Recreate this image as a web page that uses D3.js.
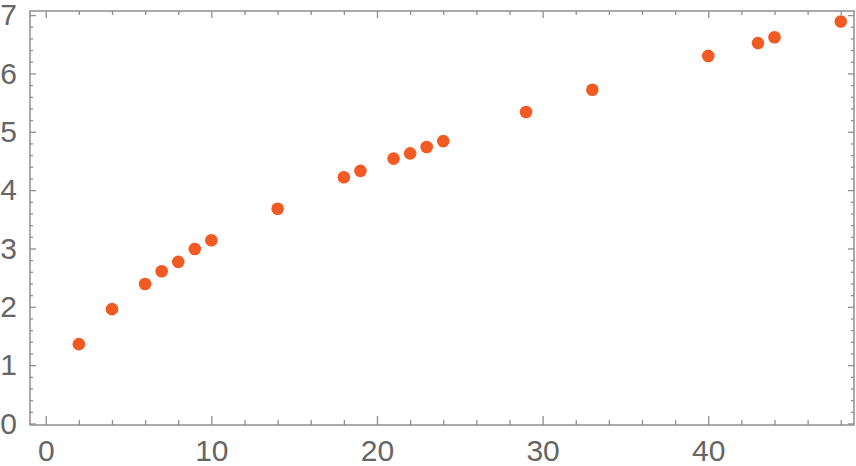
<!DOCTYPE html>
<html><head><meta charset="utf-8">
<script src="https://cdn.jsdelivr.net/npm/d3@7"></script>
<style>body{margin:0;background:#fff}svg{display:block}</style>
</head><body>
<script>
const xValues = [2,4,6,7,8,9,10,14,18,19,21,22,23,24,29,33,40,43,44,48];
const yValues = [1.36,1.96,2.39,2.61,2.77,2.99,3.14,3.68,4.22,4.33,4.54,4.63,4.74,4.84,5.34,5.72,6.30,6.52,6.62,6.89];
const xTickLabels = [0,10,20,30,40];
const yTickLabels = [0,1,2,3,4,5,6,7];

const W = 856, H = 466;
const L = 30, R = 854, T = 11, B = 425;
const svg = d3.select("body").append("svg").attr("width", W).attr("height", H);

const x = d3.scaleLinear().domain([-0.95, 48.8]).range([L, R]);
const y = d3.scaleLinear().domain([-0.026, 7.07]).range([B, T]);

const frameCol = "#8f8f8f", textCol = "#666";
const font = "'Liberation Sans', Arial, sans-serif";

const xMinor = d3.range(0, 49, 2).filter(v => v % 10 !== 0);
const yMinor = d3.range(0, 7.01, 0.2).map(v => +v.toFixed(1)).filter(v => Math.abs(v - Math.round(v)) > 1e-6);

function styleAxis(g) {
  g.select(".domain").remove();
  g.selectAll(".tick line").attr("stroke", frameCol).attr("stroke-width", 1.3);
  g.selectAll(".tick text").attr("fill", textCol).attr("font-family", font).attr("font-size", 30);
}

// bottom axis
svg.append("g").attr("transform", `translate(0,${B})`)
  .call(d3.axisBottom(x).tickValues(xTickLabels).tickSize(-9).tickPadding(15).tickFormat(d3.format("d")))
  .call(styleAxis);
svg.append("g").attr("transform", `translate(0,${B})`)
  .call(d3.axisBottom(x).tickValues(xMinor).tickSize(-5).tickFormat(""))
  .call(styleAxis);
// top axis
svg.append("g").attr("transform", `translate(0,${T})`)
  .call(d3.axisTop(x).tickValues(xTickLabels).tickSize(-7).tickFormat(""))
  .call(styleAxis);
svg.append("g").attr("transform", `translate(0,${T})`)
  .call(d3.axisTop(x).tickValues(xMinor).tickSize(-4).tickFormat(""))
  .call(styleAxis);
// left axis
svg.append("g").attr("transform", `translate(${L},0)`)
  .call(d3.axisLeft(y).tickValues(yTickLabels).tickSize(-6).tickPadding(13).tickFormat(d3.format("d")))
  .call(styleAxis);
svg.append("g").attr("transform", `translate(${L},0)`)
  .call(d3.axisLeft(y).tickValues(yMinor).tickSize(-3).tickFormat(""))
  .call(styleAxis);
// right axis
svg.append("g").attr("transform", `translate(${R},0)`)
  .call(d3.axisRight(y).tickValues(yTickLabels).tickSize(-6).tickFormat(""))
  .call(styleAxis);
svg.append("g").attr("transform", `translate(${R},0)`)
  .call(d3.axisRight(y).tickValues(yMinor).tickSize(-3).tickFormat(""))
  .call(styleAxis);

// frame
svg.append("rect").attr("x", L).attr("y", T).attr("width", R - L).attr("height", B - T)
  .attr("fill", "none").attr("stroke", frameCol).attr("stroke-width", 1.5);

// points
const data = xValues.map((v, i) => ({x: v, y: yValues[i]}));
svg.append("g").selectAll("circle").data(data).join("circle")
  .attr("cx", d => x(d.x)).attr("cy", d => y(d.y)).attr("r", 6.3)
  .attr("fill", "#f15a22");
</script>
</body></html>
